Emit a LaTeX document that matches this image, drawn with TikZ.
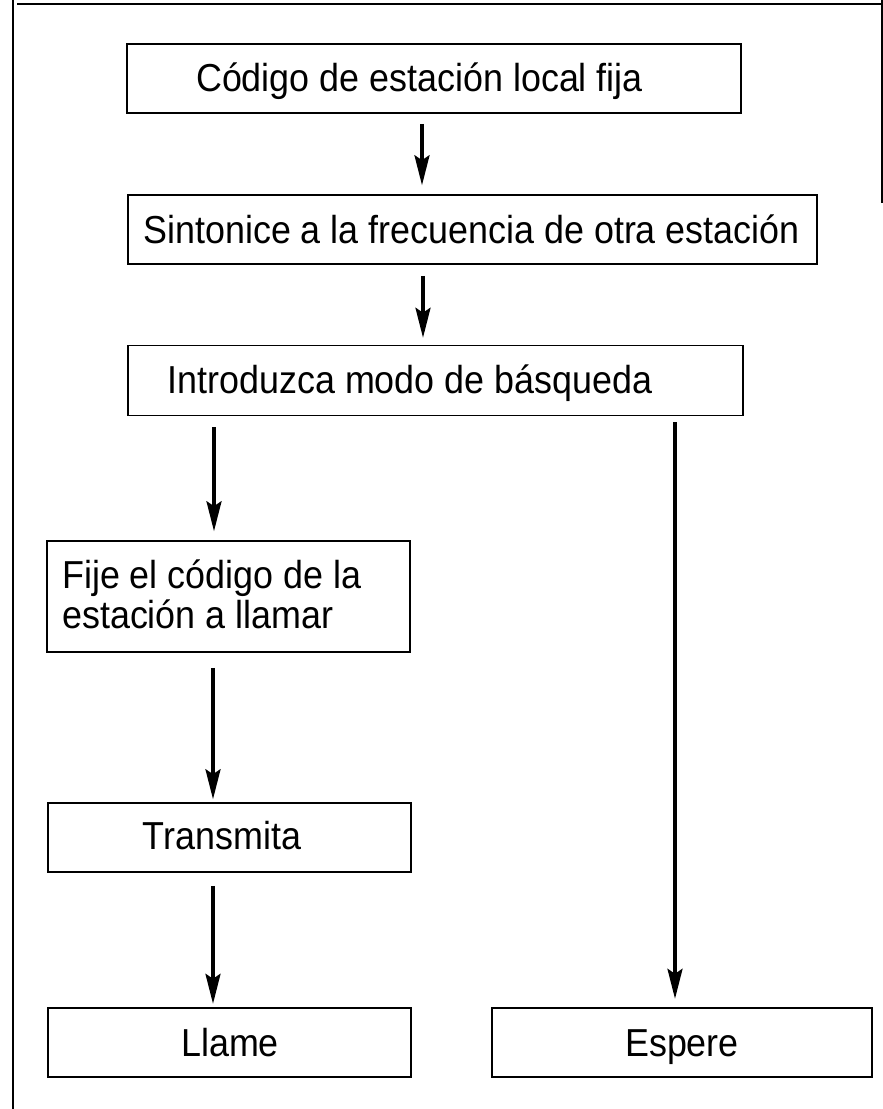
\documentclass[tikz,border=0pt]{standalone}
\usepackage{fontspec}
\setmainfont{Liberation Sans}[FakeStretch=0.92]
\usetikzlibrary{arrows.meta,calc}
\tikzset{
  box/.style={draw=black, line width=1.5pt, minimum height=69pt, inner sep=0pt},
  endbox/.style={box, line width=2.4pt},
  lbl/.style={font=\fontsize{39}{42}\selectfont, inner sep=0pt, anchor=base},
  arr/.style={line width=3.4pt, -{Stealth[length=30pt,width=15pt,inset=5pt]}},
  frame/.style={line width=1.2pt}
}
\begin{document}
\begin{tikzpicture}[x=1pt,y=-1pt]
\useasboundingbox (0,0) rectangle (883,1109);
% frame
\draw[frame] (13,0) -- (13,1109);
\draw[frame] (17,4) -- (883,4);
\draw[frame] (882,0) -- (882,203);
% boxes
\node[box, minimum width=614pt] (b1) at (434,78.5) {};
\node[box, minimum width=689pt] (b2) at (472.5,229.5) {};
\node[box, minimum width=615pt, minimum height=70pt] (b3) at (435.5,380.5) {};
\node[box, minimum width=363pt, minimum height=111pt] (b4) at (228.5,596.5) {};
\node[box, minimum width=363pt] (b5) at (229.5,837.5) {};
\node[endbox, minimum width=363pt] (b6) at (229.5,1042.5) {};
\node[endbox, minimum width=380pt] (b7) at (682,1042.5) {};
% labels
\node[lbl] (t1) at (419.5,91) {Código de estación local fija};
\node[lbl] (t2) at (471.5,243) {Sintonice a la frecuencia de otra estación};
\node[lbl] (t3) at (410,393) {Introduzca modo de básqueda};
\node[lbl, anchor=base west] (t4a) at (62,588) {Fije el código de la};
\node[lbl, anchor=base west] (t4b) at (62,628) {estación a llamar};
\node[lbl] (t5) at (222,849) {Transmita};
\node[lbl] (t6) at (230,1056) {Llame};
\node[lbl] (t7) at (682,1056) {Espere};
% connector columns
\coordinate (c1) at (422,0);
\coordinate (c2) at (423,0);
\coordinate (c3) at (214,0);
\coordinate (c4) at (675,0);
\coordinate (c5) at (213,0);
% connectors
\draw[arr, shorten <=10pt, shorten >=9pt] (b1.south -| c1) -- (b2.north -| c1);
\draw[arr, shorten <=11pt, shorten >=7pt] (b2.south -| c2) -- (b3.north -| c2);
\draw[arr, shorten <=11pt, shorten >=9pt] (b3.south -| c3) -- (b4.north -| c3);
\draw[arr, shorten <=6pt, shorten >=8pt] (b3.south -| c4) -- (b7.north -| c4);
\draw[arr, shorten <=15pt, shorten >=3pt] (b4.south -| c5) -- (b5.north -| c5);
\draw[arr, shorten <=13pt, shorten >=3pt] (b5.south -| c5) -- (b6.north -| c5);
\end{tikzpicture}
\end{document}
